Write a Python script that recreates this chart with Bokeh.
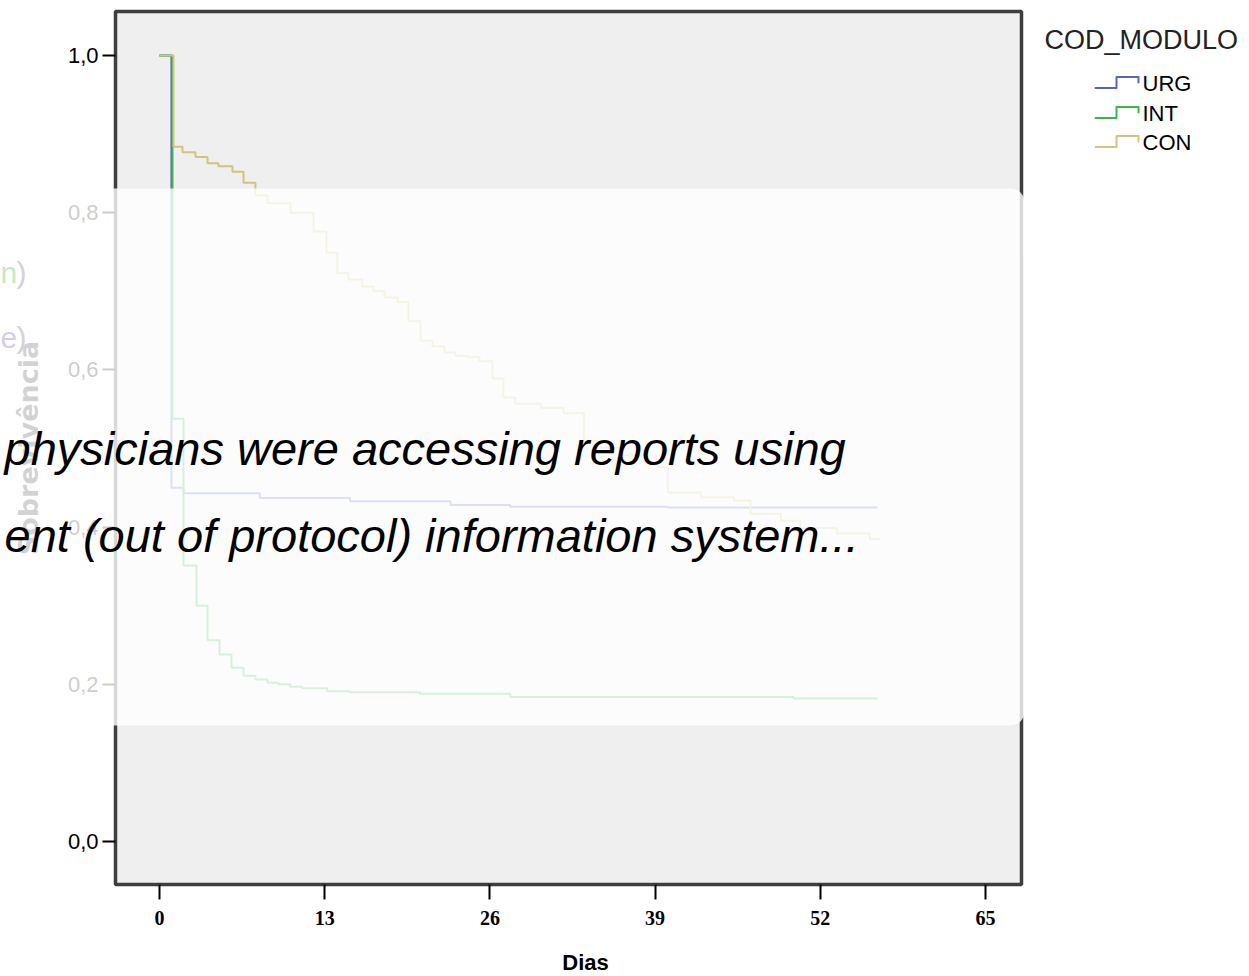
from bokeh.plotting import figure
from bokeh.models import (Range1d, FixedTicker, CustomJSTickFormatter, BoxAnnotation,
                          Label, PolyAnnotation)
from bokeh.embed import file_html
from bokeh.resources import INLINE

# ---------------- data ----------------
series_names = ["URG", "INT", "CON"]

urg_days = [0, 0.94, 1.89, 7.9, 15.0, 22.9, 27.6, 40.0, 56.5]
urg_surv = [1.0, 0.450, 0.443, 0.437, 0.433, 0.428, 0.426, 0.425, 0.425]

int_days = [0, 1.02, 1.89, 2.91, 3.78, 4.72, 5.66, 6.61, 7.55, 8.50, 9.36, 10.31,
            11.25, 13.2, 15.0, 20.5, 27.6, 49.9, 56.5]
int_surv = [1.0, 0.538, 0.351, 0.300, 0.256, 0.238, 0.221, 0.211, 0.206, 0.202, 0.200,
            0.197, 0.195, 0.191, 0.190, 0.188, 0.184, 0.182, 0.182]

con_days = [0, 1.10, 1.81, 2.83, 3.78, 4.64, 5.74, 6.61, 7.55, 8.50, 10.31, 12.12,
            13.14, 14.00, 14.87, 15.97, 16.84, 17.70, 18.73, 19.59, 20.54, 21.48,
            22.42, 23.29, 24.23, 25.18, 26.20, 27.07, 28.0, 30.0, 31.8, 33.4, 34.7,
            36.3, 38.2, 39.2, 40.0, 42.6, 45.2, 46.5, 48.9, 50.4, 53.3, 55.9, 56.7]
con_surv = [1.0, 0.884, 0.877, 0.871, 0.863, 0.859, 0.852, 0.838, 0.822, 0.812, 0.800,
            0.776, 0.749, 0.723, 0.715, 0.706, 0.700, 0.692, 0.686, 0.662, 0.637,
            0.630, 0.622, 0.618, 0.616, 0.611, 0.589, 0.565, 0.557, 0.552, 0.545,
            0.510, 0.501, 0.491, 0.482, 0.476, 0.444, 0.438, 0.434, 0.417, 0.408,
            0.399, 0.392, 0.385, 0.385]

x_ticks = [0, 13, 26, 39, 52, 65]
y_ticks = [0.0, 0.2, 0.4, 0.6, 0.8, 1.0]

legend_title = "COD_MODULO"
x_label = "Dias"
y_label = "Sobrevivência"
note_line1 = "physicians were accessing reports using"
note_line2 = "ent (out of protocol) information system..."

# ---------------- layout / geometry (page pixels) ----------------
W, H = 1248, 975
L, T, R, B = 115, 11, 1021, 884          # plot-area edges
X0, XK = 159, 826 / 65                   # px of day 0, px per day
Y0, YK = 841, 786                        # px of 0.0, px per unit


def X(px):
    return (px - X0) / XK


def Y(py):
    return (Y0 - py) / YK


colors = {"URG": "#5567B8", "INT": "#3DB54A", "CON": "#D0C47E"}

p = figure(width=W, height=H, output_backend="svg", toolbar_location=None,
           x_range=Range1d(X(0), X(W)), y_range=Range1d(Y(H), Y(0)),
           min_border=0, min_border_left=0, min_border_right=0,
           min_border_top=0, min_border_bottom=0)

p.background_fill_color = "white"
p.border_fill_color = "white"
p.outline_line_color = None
p.grid.visible = False

# grey plot area with its dark border
p.add_layout(BoxAnnotation(left=X(L), right=X(R), top=Y(T), bottom=Y(B), level="underlay",
                           fill_color="#EFEFEF", fill_alpha=1.0,
                           line_color="#3E3E3E", line_alpha=1.0, line_width=3.5))

# axes fixed on the plot-area edges
p.xaxis.fixed_location = Y(B)
p.yaxis.fixed_location = X(L)
p.xaxis.bounds = (X(148), X(1022))
p.yaxis.bounds = (Y(B), Y(T))
p.xaxis.ticker = FixedTicker(ticks=x_ticks)
p.yaxis.ticker = FixedTicker(ticks=y_ticks)
p.yaxis.formatter = CustomJSTickFormatter(code="return tick.toFixed(1).replace('.', ',');")
p.axis.axis_line_color = None
p.axis.minor_tick_line_color = None
p.axis.major_tick_line_color = "black"
p.axis.major_tick_line_width = 2
p.axis.major_tick_in = 0
p.xaxis.major_tick_out = 15
p.yaxis.major_tick_out = 13

p.xaxis.major_label_text_font = "Liberation Serif"
p.xaxis.major_label_text_font_size = "20px"
p.xaxis.major_label_text_font_style = "bold"
p.xaxis.major_label_text_color = "black"
p.xaxis.major_label_standoff = 11

p.yaxis.major_label_text_font = "Liberation Sans"
p.yaxis.major_label_text_font_size = "22px"
p.yaxis.major_label_text_color = "black"
p.yaxis.major_label_standoff = 4

p.xaxis.axis_label = x_label
p.xaxis.axis_label_text_font = "Liberation Sans"
p.xaxis.axis_label_text_font_style = "bold"
p.xaxis.axis_label_text_font_size = "22px"
p.xaxis.axis_label_text_color = "black"
p.xaxis.axis_label_standoff = 22

p.yaxis.axis_label = y_label
p.yaxis.axis_label_text_font = "DejaVu Sans"
p.yaxis.axis_label_text_font_style = "bold"
p.yaxis.axis_label_text_font_size = "27px"
p.yaxis.axis_label_text_color = "#222222"
p.yaxis.axis_label_standoff = 21

# ---------------- survival curves ----------------
data = {"URG": (urg_days, urg_surv), "INT": (int_days, int_surv), "CON": (con_days, con_surv)}
for name in series_names:
    d, s = data[name]
    p.step(d, s, mode="after", line_color=colors[name], line_width=2)

# ---------------- legend (right of the plot area) ----------------
p.add_layout(Label(x=X(1044), y=Y(39), text=legend_title, text_font="Liberation Sans",
                   text_font_size="27px", text_color="#222222", text_baseline="middle",
                   text_align="left"))
row_y = {"URG": 83, "INT": 113, "CON": 142}
for name in series_names:
    yc = row_y[name]
    x1, x2, x3 = 1095, 1116, 1138
    lo, hi, en = yc + 4.5, yc - 6.5, yc - 1
    xs_px = [x1, x2, x2, x3, x3, x3, x2, x2]
    ys_px = [lo, lo, hi, hi, en, hi, hi, lo]
    p.add_layout(PolyAnnotation(xs=[X(v) for v in xs_px], ys=[Y(v) for v in ys_px],
                                fill_alpha=0, line_color=colors[name], line_alpha=1.0,
                                line_width=2, line_join="round"))
    p.add_layout(Label(x=X(1142), y=Y(yc), text=name, text_font="Liberation Sans",
                       text_font_size="22px", text_color="black", text_baseline="middle",
                       text_align="left"))

# ---------------- semi-transparent overlay with note ----------------
p.add_layout(BoxAnnotation(left=X(-20), right=X(1024), top=Y(188), bottom=Y(725),
                           fill_color="white", fill_alpha=0.8, line_color=None,
                           border_radius=14))

for txt, col, px, by in [("n", "#C3E9C3", 0, 272), (")", "#D3D3D3", 16, 272),
                         ("e", "#D5CCF2", 0, 337), (")", "#D3D3D3", 16, 337)]:
    p.add_layout(Label(x=X(px), y=Y(by), text=txt, text_font="Liberation Sans",
                       text_font_size="30px", text_color=col, text_baseline="alphabetic"))

p.add_layout(Label(x=X(4), y=Y(448), text=note_line1, text_font="Liberation Sans",
                   text_font_style="italic", text_font_size="47px", text_color="black",
                   text_baseline="alphabetic"))
p.add_layout(Label(x=X(4), y=Y(535), text=note_line2, text_font="Liberation Sans",
                   text_font_style="italic", text_font_size="47px", text_color="black",
                   text_baseline="alphabetic"))

open("out.html", "w").write(file_html(p, INLINE))
